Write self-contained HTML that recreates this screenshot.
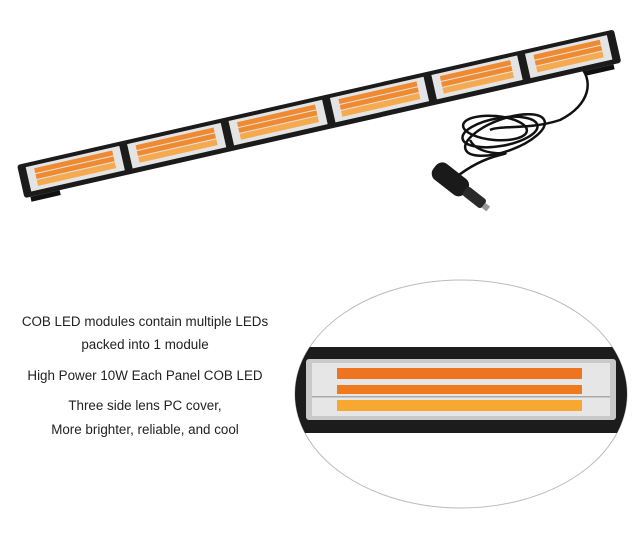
<!DOCTYPE html>
<html><head><meta charset="utf-8"><style>
body{margin:0;width:640px;height:550px;background:#fff;overflow:hidden;position:relative;font-family:"Liberation Sans",Arial,sans-serif;}
.t{position:absolute;left:0;width:290px;text-align:center;font-size:13.4px;color:#222;}
</style></head><body>
<svg width="640" height="550" style="position:absolute;left:0;top:0">
<!-- cable -->
<g fill="none" stroke="#111" stroke-width="2.5">
<path d="M578 64 C595 80 590 105 560 120 C530 130 500 125 490 130"/>
<ellipse cx="500" cy="132" rx="38" ry="14" transform="rotate(-10 500 132)"/>
<ellipse cx="495" cy="128" rx="32" ry="12" transform="rotate(5 495 128)"/>
<ellipse cx="505" cy="135" rx="42" ry="16" transform="rotate(-20 505 135)"/>
<path d="M470 140 C480 160 520 150 500 155 C480 160 465 170 455 178"/>
</g>
<!-- plug -->
<g transform="translate(440,170) rotate(38)">
<rect x="-6" y="-9" width="40" height="20" rx="8" fill="#1a1a1a"/>
<rect x="32" y="-5" width="24" height="11" rx="3" fill="#2a2a2a"/>
<rect x="56" y="-2" width="6" height="6" fill="#999"/>
</g>
<!-- main bar -->
<g transform="translate(17,165) rotate(-12.8)">
<rect x="0" y="0" width="612" height="34" rx="3" fill="#1b1b1b"/>
<rect x="6" y="34" width="30" height="5" fill="#111"/>
<rect x="574" y="34" width="30" height="5" fill="#111"/>
<g fill="#e4e4e4">
<rect x="8" y="4" width="96" height="25"/>
<rect x="112" y="4" width="96" height="25"/>
<rect x="216" y="4" width="96" height="25"/>
<rect x="320" y="4" width="96" height="25"/>
<rect x="424" y="4" width="88" height="25"/>
<rect x="520" y="4" width="84" height="25"/>
</g>
<g fill="#f08a30">
<rect x="16" y="7" width="80" height="5"/><rect x="16" y="13" width="80" height="5"/><rect x="16" y="19" width="80" height="6" fill="#f5aa50"/>
<rect x="120" y="7" width="80" height="5"/><rect x="120" y="13" width="80" height="5"/><rect x="120" y="19" width="80" height="6" fill="#f5aa50"/>
<rect x="224" y="7" width="80" height="5"/><rect x="224" y="13" width="80" height="5"/><rect x="224" y="19" width="80" height="6" fill="#f5aa50"/>
<rect x="328" y="7" width="80" height="5"/><rect x="328" y="13" width="80" height="5"/><rect x="328" y="19" width="80" height="6" fill="#f5aa50"/>
<rect x="432" y="7" width="72" height="5"/><rect x="432" y="13" width="72" height="5"/><rect x="432" y="19" width="72" height="6" fill="#f5aa50"/>
<rect x="528" y="7" width="68" height="5"/><rect x="528" y="13" width="68" height="5"/><rect x="528" y="19" width="68" height="6" fill="#f5aa50"/>
</g>
</g>
<!-- ellipse detail -->
<ellipse cx="461" cy="394" rx="166" ry="114" fill="#fff" stroke="#bbb" stroke-width="1"/>
<clipPath id="ec"><ellipse cx="461" cy="394" rx="166" ry="114"/></clipPath>
<g clip-path="url(#ec)">
<rect x="290" y="347" width="340" height="86" fill="#1c1c1c"/>
<rect x="306" y="359" width="310" height="61" rx="3" fill="#c9c9c9"/>
<rect x="312" y="363" width="298" height="53" fill="#e6e6e6"/>
<rect x="337" y="368" width="245" height="11" fill="#ee7420"/>
<rect x="337" y="385" width="245" height="9" fill="#ef7a1e"/>
<rect x="337" y="400" width="245" height="11" fill="#f7a830"/>
<rect x="312" y="396" width="298" height="1.5" fill="#aaa"/>
</g>
</svg>
<div class="t" style="top:314px">COB LED modules contain multiple LEDs</div>
<div class="t" style="top:337px">packed into 1 module</div>
<div class="t" style="top:368px">High Power 10W Each Panel COB LED</div>
<div class="t" style="top:398px">Three side lens PC cover,</div>
<div class="t" style="top:422px">More brighter, reliable, and cool</div>
</body></html>
